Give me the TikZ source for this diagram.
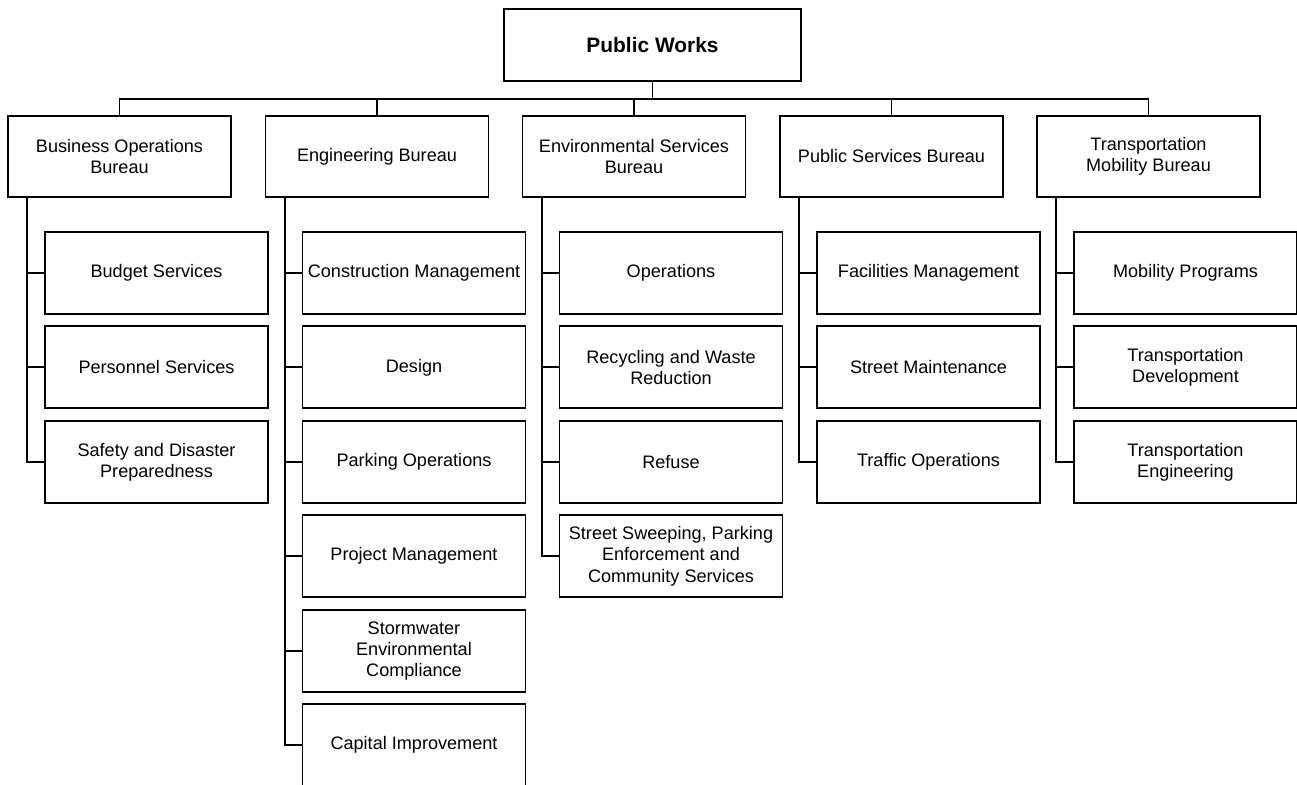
\documentclass[tikz,border=0pt]{standalone}
\usepackage{fontspec}
\setmainfont{Liberation Sans}
\usetikzlibrary{positioning}

\tikzset{
  unitbox/.style={draw, line width=1.1pt, minimum width=4.46cm, minimum height=1.64cm,
    align=center, inner sep=1pt, font=\fontsize{10.3}{12}\selectfont},
  bureaubox/.style={unitbox, minimum height=1.62cm},
  headbox/.style={unitbox, minimum width=5.94cm, minimum height=1.44cm,
    font=\fontsize{11.9}{14}\selectfont\bfseries},
  link/.style={line width=1.1pt}
}

\begin{document}
\begin{tikzpicture}
  \useasboundingbox (0,0) rectangle (25.94,-15.7);
  \clip (0,0) rectangle (25.94,-15.7);

  % head
  \node[headbox] (works) at (13.05,-0.9) {Public Works};

  % bureaus
  \node[bureaubox] (busops) at (2.39,-3.13) {Business Operations\\Bureau};
  \node[bureaubox] (engineering) at (7.54,-3.13) {Engineering Bureau};
  \node[bureaubox] (environment) at (12.68,-3.13) {Environmental Services\\Bureau};
  \node[bureaubox] (pubserv) at (17.83,-3.13) {Public Services Bureau};
  \node[bureaubox] (mobility) at (22.97,-3.13) {Transportation\\Mobility Bureau};

  % business operations
  \node[unitbox] (budget) at ([shift={(0.74,-2.33)}]busops.center) {Budget Services};
  \node[unitbox, below=0.21cm of budget] (personnel) {Personnel Services};
  \node[unitbox, below=0.21cm of personnel] (safety) {Safety and Disaster\\Preparedness};

  % engineering
  \node[unitbox] (construction) at ([shift={(0.74,-2.33)}]engineering.center) {Construction Management};
  \node[unitbox, below=0.21cm of construction] (design) {Design};
  \node[unitbox, below=0.21cm of design] (parking) {Parking Operations};
  \node[unitbox, below=0.21cm of parking] (project) {Project Management};
  \node[unitbox, below=0.21cm of project] (stormwater) {Stormwater\\Environmental\\Compliance};
  \node[unitbox, below=0.21cm of stormwater] (capital) {Capital Improvement};

  % environmental services
  \node[unitbox] (operations) at ([shift={(0.74,-2.33)}]environment.center) {Operations};
  \node[unitbox, below=0.21cm of operations] (recycling) {Recycling and Waste\\Reduction};
  \node[unitbox, below=0.21cm of recycling] (refuse) {Refuse};
  \node[unitbox, below=0.21cm of refuse] (sweeping) {Street Sweeping, Parking\\Enforcement and\\Community Services};

  % public services
  \node[unitbox] (facilities) at ([shift={(0.74,-2.33)}]pubserv.center) {Facilities Management};
  \node[unitbox, below=0.21cm of facilities] (street) {Street Maintenance};
  \node[unitbox, below=0.21cm of street] (traffic) {Traffic Operations};

  % transportation mobility
  \node[unitbox] (programs) at ([shift={(0.74,-2.33)}]mobility.center) {Mobility Programs};
  \node[unitbox, below=0.21cm of programs] (development) {Transportation\\Development};
  \node[unitbox, below=0.21cm of development] (transeng) {Transportation\\Engineering};

  % connectors
  \draw[link] (works.south) -- ++(0,-0.34) coordinate (bus);
  \foreach \b in {busops,engineering,environment,pubserv,mobility}
    \draw[link] (bus) -| (\b.north);

  \foreach \c in {budget,personnel,safety}
    \draw[link] ([xshift=0.4cm]busops.south west) |- (\c.west);
  \foreach \c in {construction,design,parking,project,stormwater,capital}
    \draw[link] ([xshift=0.4cm]engineering.south west) |- (\c.west);
  \foreach \c in {operations,recycling,refuse,sweeping}
    \draw[link] ([xshift=0.4cm]environment.south west) |- (\c.west);
  \foreach \c in {facilities,street,traffic}
    \draw[link] ([xshift=0.4cm]pubserv.south west) |- (\c.west);
  \foreach \c in {programs,development,transeng}
    \draw[link] ([xshift=0.4cm]mobility.south west) |- (\c.west);
\end{tikzpicture}
\end{document}
